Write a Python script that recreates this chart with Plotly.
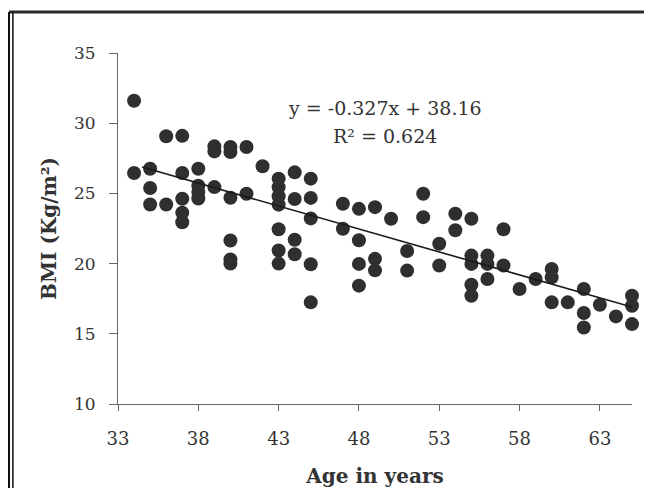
import plotly.graph_objects as go

# Data
age = [34, 34,
       35, 35, 35,
       36, 36,
       37, 37, 37, 37, 37,
       38, 38, 38, 38,
       39, 39, 39,
       40, 40, 40, 40, 40, 40,
       41, 41,
       42,
       43, 43, 43, 43, 43, 43, 43,
       44, 44, 44, 44,
       45, 45, 45, 45, 45,
       47, 47,
       48, 48, 48, 48,
       49, 49, 49,
       50,
       51, 51,
       52, 52,
       53, 53,
       54, 54,
       55, 55, 55, 55, 55,
       56, 56, 56,
       57, 57,
       58,
       59,
       60, 60, 60,
       61,
       62, 62, 62,
       63,
       64,
       65, 65, 65]
bmi = [31.6, 26.45,
       26.76, 25.38, 24.21,
       29.07, 24.21,
       29.1, 26.45, 24.62, 23.62, 22.95,
       26.76, 25.55, 25.1, 24.64,
       28.35, 27.99, 25.45,
       28.3, 27.95, 24.69, 21.64, 20.3, 20.0,
       28.3, 24.98,
       26.93,
       26.05, 25.45, 24.8, 24.2, 22.45, 20.93, 20.0,
       26.5, 24.6, 21.7, 20.67,
       26.05, 24.68, 23.22, 19.95, 17.24,
       24.26, 22.48,
       23.9, 21.66, 19.98, 18.43,
       24.02, 20.34, 19.52,
       23.19,
       20.9, 19.5,
       24.98, 23.31,
       21.41, 19.86,
       23.55, 22.38,
       23.19, 20.57, 19.98, 18.49, 17.71,
       20.57, 19.98, 18.9,
       22.45, 19.86,
       18.19,
       18.9,
       19.62, 19.02, 17.24,
       17.24,
       18.19, 16.48, 15.45,
       17.07,
       16.24,
       17.71, 17.0, 15.69]

slope = -0.327
intercept = 38.16
trend_x = [34.5, 65]
trend_y = [slope * v + intercept for v in trend_x]

x_ticks = [33, 38, 43, 48, 53, 58, 63]
y_ticks = [10, 15, 20, 25, 30, 35]

equation_text = "y = -0.327x + 38.16"
r2_text = "R² = 0.624"

serif = "DejaVu Serif, Liberation Serif, serif"
ink = "#333333"

fig = go.Figure()
fig.add_trace(go.Scatter(
    x=age, y=bmi, mode="markers",
    marker=dict(size=14, color="#2f2f2f", line=dict(width=0)),
    cliponaxis=False,
    showlegend=False, hoverinfo="x+y"))
fig.add_trace(go.Scatter(
    x=trend_x, y=trend_y, mode="lines",
    line=dict(color="#1a1a1a", width=1.6),
    showlegend=False, hoverinfo="skip"))

# the page adds an 8px body margin, so the figure is kept smaller than the window
fig.update_layout(
    width=644, height=480,
    margin=dict(l=110, r=20, t=45, b=84, autoexpand=False),
    paper_bgcolor="white", plot_bgcolor="white",
    font=dict(family=serif, color=ink, size=17),
    xaxis=dict(
        range=[33, 65], tickvals=x_ticks, ticktext=[str(v) for v in x_ticks],
        showgrid=False, zeroline=False, automargin=False,
        showline=True, linecolor="#666666", linewidth=1,
        ticks="outside", ticklen=6, tickcolor="#666666",
        tickfont=dict(family=serif, size=18, color=ink),
        ticklabelstandoff=12,
        title=dict(text="<b>Age in years</b>", font=dict(family=serif, size=20, color=ink), standoff=32),
    ),
    yaxis=dict(
        range=[10, 35], tickvals=y_ticks, ticktext=[str(v) for v in y_ticks],
        showgrid=False, zeroline=False, automargin=False,
        showline=True, linecolor="#666666", linewidth=1,
        ticks="outside", ticklen=8, tickcolor="#666666",
        tickfont=dict(family=serif, size=17, color=ink),
        ticklabelstandoff=10,
        title=dict(text="<b>BMI (Kg/m²)</b>", font=dict(family=serif, size=20, color=ink), standoff=11),
    ),
    annotations=[
        dict(x=49.6, y=31.07, xref="x", yref="y", text=equation_text, showarrow=False,
             font=dict(family=serif, size=19, color=ink), xanchor="center", yanchor="middle"),
        dict(x=49.6, y=29.1, xref="x", yref="y", text=r2_text, showarrow=False,
             font=dict(family=serif, size=19, color=ink), xanchor="center", yanchor="middle"),
    ],
    shapes=[
        dict(type="line", xref="paper", yref="paper", x0=-0.212, x1=1.039, y0=1.117, y1=1.117,
             line=dict(color="#2a2a2a", width=3)),
        dict(type="line", xref="paper", yref="paper", x0=-0.2125, x1=-0.2125, y0=1.117, y1=-0.24,
             line=dict(color="#111111", width=2.5)),
        dict(type="line", xref="paper", yref="paper", x0=-0.2045, x1=-0.2045, y0=1.117, y1=-0.24,
             line=dict(color="#111111", width=1.5)),
    ],
)

fig.write_html("out.html")
